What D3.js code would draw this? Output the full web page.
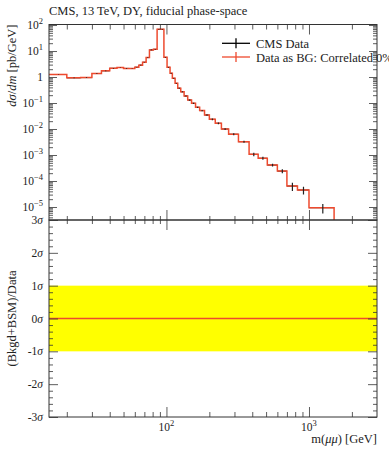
<!DOCTYPE html>
<html><head><meta charset="utf-8">
<script src="https://cdn.jsdelivr.net/npm/d3@7"></script>
<style>
body{margin:0;background:#fff}
svg{display:block}
text{font-family:"Liberation Serif","DejaVu Serif",serif;fill:#222}
</style>
</head><body>
<svg id="c" width="389" height="450"></svg>
<script>
// ---- data ----
const binEdges = [15,20,25,30,35,40,45,50,55,60,64,68,72,76,81,86,91,96,101,106,110,115,120,126,133,141,150,160,171,185,200,220,243,273,320,380,440,510,600,700,830,1000,1500,3000];
const xsec = [1.25,0.93,0.95,1.36,1.73,2.16,2.32,2.14,2.12,
  2.38,2.85,3.7,5.6,11.0,11.6,68,68,5.7,2.36,
  1.39,0.89,0.57,0.37,0.27,0.186,0.13,0.097,0.068,0.051,
  0.0345,0.0236,0.0166,0.0100,0.0063,0.00325,0.00106,0.00075,0.00041,0.00024,
  0.000064,0.000045,0.0000094,3e-7];
const relErr = [0.03,0.03,0.03,0.03,0.03,0.03,0.03,0.03,0.03,
  0.03,0.03,0.03,0.03,0.03,0.03,0.03,0.03,0.03,0.03,
  0.03,0.03,0.04,0.04,0.04,0.05,0.05,0.06,0.06,0.06,
  0.07,0.07,0.08,0.08,0.08,0.09,0.15,0.13,0.12,0.17,
  0.35,0.33,0.4,0.6];
const ratioSigma = binEdges.slice(0,-1).map(()=>0);
const title = "CMS, 13 TeV, DY, fiducial phase-space";
const legendLabels = ["CMS Data", "Data as BG: Correlated 0%"];
const upperTickExps = [2,1,0,-1,-2,-3,-4,-5];
const sigmaTicks = [3,2,1,0,-1,-2,-3];
const xMajorTicks = [100,1000];

// ---- layout ----
const L=49,R=377,T=24.5,B1=220,B2=417;
const RED="#ee4a2e", INK="#333";
const svg=d3.select("#c");
const x=d3.scaleLog().domain([15,3000]).range([L,R]);
const yU=d3.scaleLog().domain([Math.pow(10,-5.5),Math.pow(10,2.02)]).range([B1,T]);
const yL=d3.scaleLinear().domain([-3,3]).range([B2,B1]);

const defs=svg.append("defs");
defs.append("clipPath").attr("id","cu").append("rect").attr("x",L).attr("y",T).attr("width",R-L).attr("height",B1-T);
defs.append("clipPath").attr("id","cl").append("rect").attr("x",L).attr("y",B1).attr("width",R-L).attr("height",B2-B1);

// ---- lower panel band ----
const gl=svg.append("g").attr("clip-path","url(#cl)");
gl.append("rect").attr("x",x(15)).attr("width",x(3000)-x(15))
  .attr("y",yL(1)).attr("height",yL(-1)-yL(1)).attr("fill","#ffff00");
const stepPts=(vals)=>{const p=vals.map((v,i)=>[binEdges[i],v]);p.push([binEdges[binEdges.length-1],vals[vals.length-1]]);return p;};
gl.append("path").datum(stepPts(ratioSigma))
  .attr("d",d3.line().x(d=>x(d[0])).y(d=>yL(d[1])).curve(d3.curveStepAfter))
  .attr("fill","none").attr("stroke",RED).attr("stroke-width",1.5);

// ---- upper panel ----
const gu=svg.append("g").attr("clip-path","url(#cu)");
const centers=xsec.map((v,i)=>({m:(binEdges[i]+binEdges[i+1])/2,lo:binEdges[i],hi:binEdges[i+1],v,e:v*relErr[i]}));
gu.selectAll("line.h").data(centers).join("line")
  .attr("x1",d=>x(d.lo)).attr("x2",d=>x(d.hi)).attr("y1",d=>yU(d.v)).attr("y2",d=>yU(d.v))
  .attr("stroke","#000").attr("stroke-width",1);
gu.append("path").datum(stepPts(xsec))
  .attr("d",d3.line().x(d=>x(d[0])).y(d=>yU(d[1])).curve(d3.curveStepAfter))
  .attr("fill","none").attr("stroke",RED).attr("stroke-width",1.5);
gu.selectAll("line.v").data(centers).join("line")
  .attr("x1",d=>x(d.m)).attr("x2",d=>x(d.m)).attr("y1",d=>yU(d.v+d.e)).attr("y2",d=>yU(Math.max(d.v-d.e,1e-9)))
  .attr("stroke","#222").attr("stroke-width",1.2);

// ---- ticks ----
const xMinor=[];
[10,100,1000].forEach(k=>{for(let m=1;m<=9;m++){const v=m*k;if(v>15&&v<3000&&m!==1)xMinor.push(v);}});
function ax(gen,scale,vals,size,tx,ty){
  const g=svg.append("g").attr("transform",`translate(${tx},${ty})`)
    .call(gen(scale).tickValues(vals).tickSize(size).tickFormat(""));
  g.select(".domain").remove();
  g.selectAll(".tick line").attr("stroke",INK).attr("stroke-width",0.8);
}
ax(d3.axisBottom,x,xMinor,5,0,T); ax(d3.axisBottom,x,xMajorTicks,10,0,T);
ax(d3.axisTop,x,xMinor,4,0,B1); ax(d3.axisTop,x,xMajorTicks,10,0,B1);
ax(d3.axisBottom,x,xMinor,4,0,B1); ax(d3.axisBottom,x,xMajorTicks,10,0,B1);
ax(d3.axisTop,x,xMinor,5,0,B2); ax(d3.axisTop,x,xMajorTicks,10,0,B2);
const yMinor=[];
for(let k=-6;k<=2;k++)for(let m=2;m<=9;m++){const v=m*Math.pow(10,k);if(v>yU.domain()[0]&&v<yU.domain()[1])yMinor.push(v);}
const yMajor=upperTickExps.map(e=>Math.pow(10,e));
ax(d3.axisRight,yU,yMinor,4,L,0); ax(d3.axisRight,yU,yMajor,8,L,0);
ax(d3.axisLeft,yU,yMinor,4,R,0); ax(d3.axisLeft,yU,yMajor,8,R,0);
const sMinor=d3.range(-3,3.001,0.2).map(v=>+v.toFixed(1)).filter(v=>Math.abs(v-Math.round(v))>0.01);
ax(d3.axisRight,yL,sMinor,4,L,0); ax(d3.axisRight,yL,sigmaTicks,9,L,0);
ax(d3.axisLeft,yL,sMinor,4,R,0); ax(d3.axisLeft,yL,sigmaTicks,9,R,0);

[[T,B1],[B1,B2]].forEach(([a,b])=>svg.append("rect").attr("x",L).attr("y",a).attr("width",R-L).attr("height",b-a)
  .attr("fill","none").attr("stroke",INK).attr("stroke-width",1));

// ---- labels ----
upperTickExps.forEach(e=>{
  const t=svg.append("text").attr("x",L-6).attr("y",yU(Math.pow(10,e))+4).attr("text-anchor","end").attr("font-size",11.5);
  if(e===0){t.text("1");}
  else{t.append("tspan").text("10");t.append("tspan").attr("dy",-5).attr("font-size",8.5).text(e<0?"\u2212"+(-e):String(e));}
});
sigmaTicks.forEach(s=>{
  const t=svg.append("text").attr("x",L-6).attr("y",yL(s)+4).attr("text-anchor","end").attr("font-size",11.5);
  t.append("tspan").text(String(s));
  t.append("tspan").attr("font-style","italic").text("\u03c3");
});
xMajorTicks.forEach(v=>{
  const t=svg.append("text").attr("x",x(v)).attr("y",431).attr("text-anchor","middle").attr("font-size",11.5);
  t.append("tspan").text("10");
  t.append("tspan").attr("dy",-5).attr("font-size",8.5).text(String(Math.round(Math.log10(v))));
});
svg.append("text").attr("x",L).attr("y",15).attr("font-size",12.5).text(title);
const xt=svg.append("text").attr("x",R).attr("y",443).attr("text-anchor","end").attr("font-size",12.5);
xt.append("tspan").text("m(");
xt.append("tspan").attr("font-style","italic").text("\u03bc\u03bc");
xt.append("tspan").text(") [GeV]");
const yt=svg.append("text").attr("transform",`translate(16,${T}) rotate(-90)`).attr("text-anchor","end").attr("font-size",12.5);
yt.append("tspan").attr("font-style","italic").text("d\u03c3");
yt.append("tspan").text("/");
yt.append("tspan").attr("font-style","italic").text("dm");
yt.append("tspan").text(" [pb/GeV]");
svg.append("text").attr("transform",`translate(16,${yL(0)}) rotate(-90)`).attr("text-anchor","middle").attr("font-size",12.5)
  .text("(Bkgd+BSM)/Data");

// ---- legend ----
const lg=svg.append("g");
[["#000",43.3],[RED,57]].forEach(([c,yy],i)=>{
  lg.append("line").attr("x1",222).attr("x2",250).attr("y1",yy).attr("y2",yy).attr("stroke",c).attr("stroke-width",1.3);
  lg.append("line").attr("x1",236).attr("x2",236).attr("y1",yy-5).attr("y2",yy+5).attr("stroke",c).attr("stroke-width",1.3);
  lg.append("text").attr("x",256).attr("y",yy+4.5).attr("font-size",12.5).text(legendLabels[i]);
});
</script>
</body></html>
